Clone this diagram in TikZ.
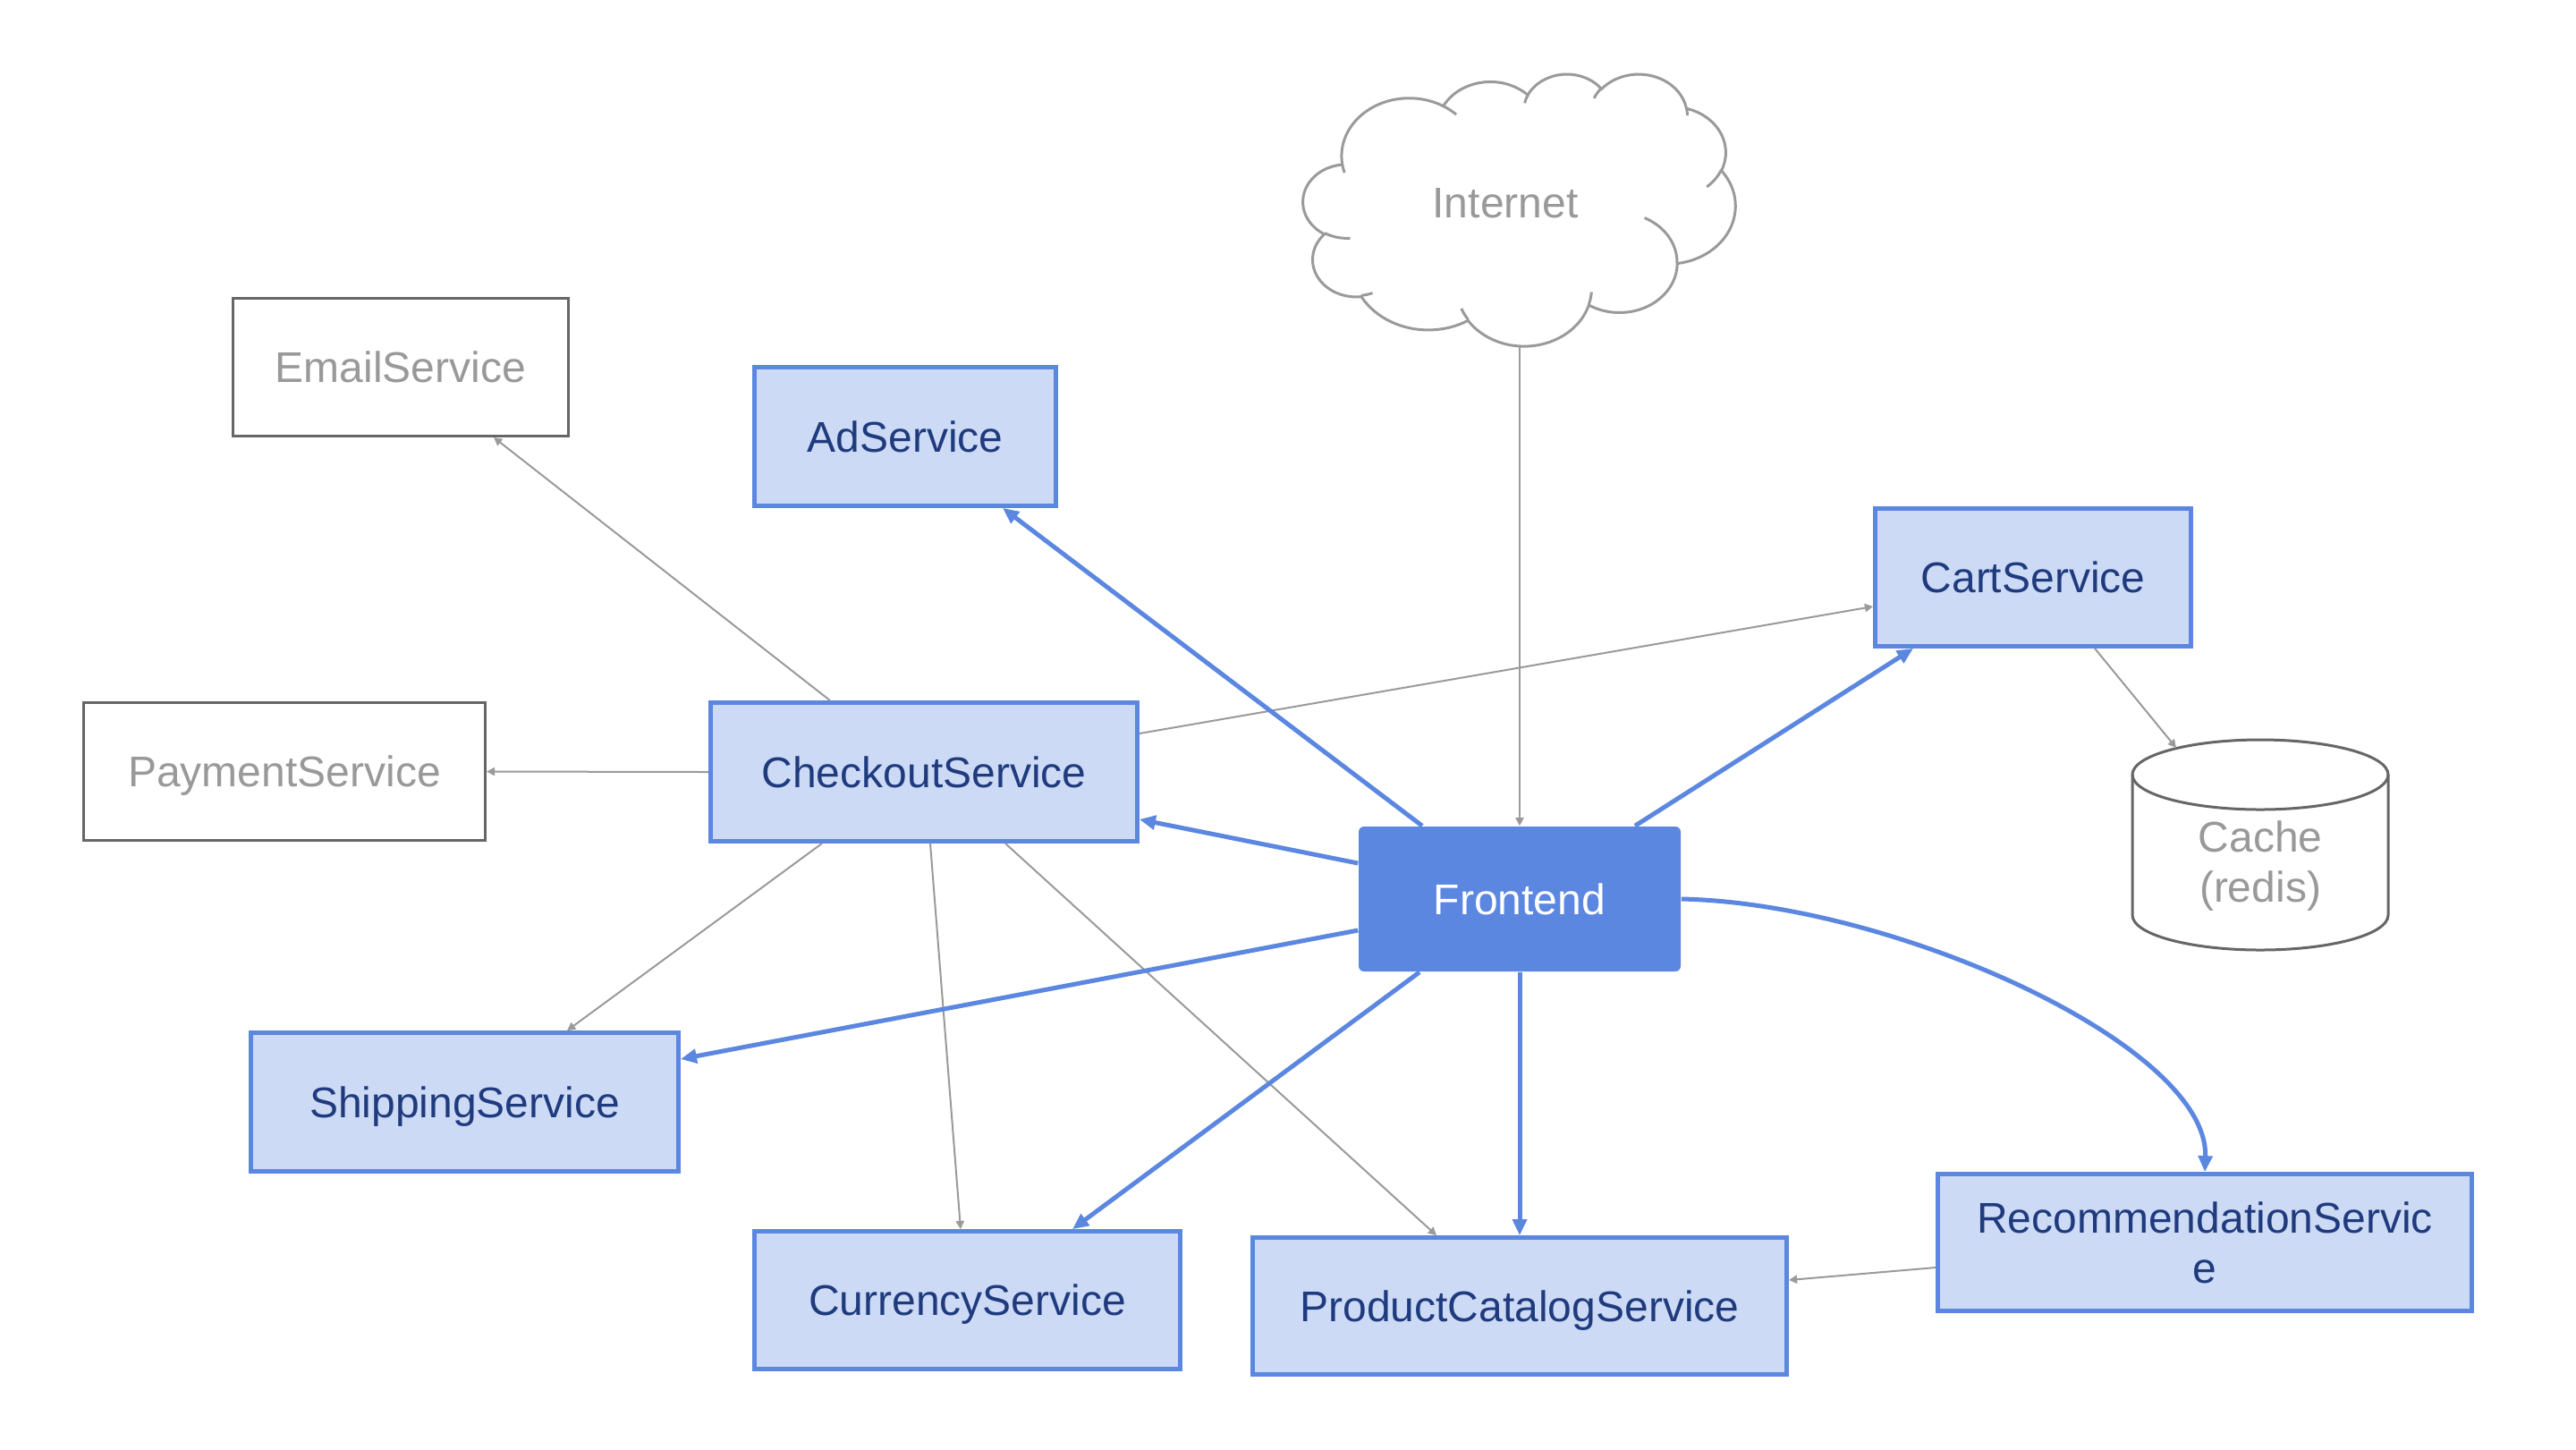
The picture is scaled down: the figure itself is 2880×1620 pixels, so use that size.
\documentclass[tikz,border=0pt]{standalone}
\usepackage{fontspec}
\setmainfont{Liberation Sans}
\usetikzlibrary{arrows.meta,calc}
\definecolor{bline}{HTML}{5B87E1}
\definecolor{bfill}{HTML}{CCDAF5}
\definecolor{btext}{HTML}{1F3B7E}
\definecolor{gtext}{HTML}{999999}
\definecolor{gline}{HTML}{9A9A9A}
\definecolor{gbox}{HTML}{666666}
% elliptical arc given like DrawingML arcTo: id, wR, hR, start angle, sweep (visual angles)
\newcommand\cldarc[5]{%
  \pgfmathsetmacro\cldS{atan2((#2)*sin(#4),(#3)*cos(#4))}%
  \pgfmathsetmacro\cldE{atan2((#2)*sin((#4)+(#5)),(#3)*cos((#4)+(#5)))}%
  \pgfmathsetmacro\cldD{mod(\cldE-\cldS+720,360)}%
  \edef\cldtmp{\noexpand\tikzset{#1/.style={x radius=#2,y radius=#3,start angle=\cldS,delta angle=\cldD}}}%
  \cldtmp}
\begin{document}
\begin{tikzpicture}[x=0.25pt,y=-0.25pt,
  every node/.style={font=\fontsize{12pt}{14pt}\selectfont, inner sep=0pt},
  lbl/.style={text height=8.6pt, text depth=0pt},
  wh/.style 2 args={minimum width=#1*0.25pt, minimum height=#2*0.25pt},
  gsvc/.style={draw=gbox, line width=0.75pt, fill=white, text=gtext, lbl},
  bsvc/.style={draw=bline, line width=1.2pt, fill=bfill, text=btext, lbl},
  front/.style={fill=bline, text=white, rounded corners=1.5pt, lbl},
  gconn/.style={draw=gline, line width=0.5pt, -{Triangle[length=2.3pt,width=2.3pt]}},
  bconn/.style={draw=bline, line width=1.25pt, -{Triangle[length=4.5pt,width=3.9pt]}}
]
\useasboundingbox (0,0) rectangle (2880,1620);
\fill[white] (0,0) rectangle (2880,1620);

% cloud arcs
\cldarc{cma}{675.3}{919.0}{-190.48748}{123.78053}
\cldarc{cmb}{533.3}{726.7}{-144.10238}{89.94523}
\cldarc{cmc}{436.5}{594.5}{-145.80792}{99.72302}
\cldarc{cmd}{485.7}{659.5}{-130.98607}{117.24173}
\cldarc{cme}{533.3}{727.3}{-78.70888}{109.02692}
\cldarc{cmf}{677.5}{922.0}{-46.26725}{130.269}
\cldarc{cmg}{578.5}{786.7}{0.62502}{114.03333}
\cldarc{cmh}{675.2}{921.5}{22.4516}{115.17255}
\cldarc{cmi}{772.0}{1054.3}{66.24263}{75.71102}
\cldarc{cmj}{436.0}{591.8}{-274.94208}{146.73557}
\cldarc{cmk}{434.5}{594.5}{-246.8285}{152.51885}
\cldarc{cca}{434.5}{594.5}{86.742}{26.4295}
\cldarc{ccb}{436.0}{591.8}{73.61047}{11.44747}
\cldarc{ccc}{675.2}{921.5}{137.62415}{14.0811}
\cldarc{ccd}{675.2}{921.5}{6.45327}{15.99835}
\cldarc{cce}{578.5}{786.7}{-70.29235}{70.91737}
\cldarc{ccf}{533.3}{727.3}{30.31803}{27.7515}
\cldarc{ccg}{485.7}{659.5}{-13.74433}{14.8589}
\cldarc{cch}{485.7}{659.5}{-149.18145}{18.19537}
\cldarc{cci}{436.5}{594.5}{-163.49427}{17.68635}
\cldarc{ccj}{675.3}{919.0}{-66.70695}{12.31935}
\cldarc{cck}{675.3}{919.0}{157.65435}{11.85817}

\begin{scope}[shift={(1457,82)}, x=1pt, y=1pt, xscale=0.027951, yscale=-0.017593]
  \draw[gline, line width=0.75pt, fill=white] (390,1437) arc[cma] arc[cmb] arc[cmc] arc[cmd]
    arc[cme] arc[cmf] arc[cmg] arc[cmh] arc[cmi] arc[cmj] arc[cmk] -- cycle;
  \draw[gline, line width=0.75pt] (469.3,2617.7) arc[cca] (692.8,3489.9) arc[ccb]
    (1647.8,3909.0) arc[ccc] (2882.7,3475.1) arc[ccd] (3412.9,2295.4) arc[cce]
    (4179.8,1535.4) arc[ccf] (3832.4,542.6) arc[ccg] (2907.8,395.2) arc[cch]
    (2214.1,472.0) arc[cci] (1400.0,519.2) arc[ccj] (412.7,1578.9) arc[cck];
\end{scope}
\node[lbl, text=gtext] (internet) at (1683,226) {Internet};
\coordinate (inetb) at (1699,387);

% cache cylinder
\draw[gbox, line width=0.75pt, fill=white] (2384,866) -- (2384,1023)
  arc[start angle=180, end angle=0, x radius=143, y radius=39] -- (2670,866)
  arc[start angle=0, end angle=-180, x radius=143, y radius=39];
\draw[gbox, line width=0.75pt] (2384,866) arc[start angle=180, end angle=0, x radius=143, y radius=39];
\node[text=gtext, align=center] (cache) at (2527,968) {Cache\\(redis)};
\coordinate (cachetop) at (2433,836);

% boxes
\node[gsvc, wh={375}{154}] (email) at (448,410.5) {EmailService};
\node[gsvc, wh={449}{154}] (payment) at (318,862.5) {PaymentService};
\node[bsvc, wh={337}{155}] (ad) at (1012,488) {AdService};
\node[bsvc, wh={477}{155}] (checkout) at (1033,863) {CheckoutService};
\node[bsvc, wh={353}{154}] (cart) at (2273,645.5) {CartService};
\node[front, wh={360}{162}] (frontend) at (1699,1005) {Frontend};
\node[bsvc, wh={478}{155}] (shipping) at (519.5,1232) {ShippingService};
\node[bsvc, wh={476}{154}] (currency) at (1081.5,1453.5) {CurrencyService};
\node[bsvc, wh={597}{153}] (product) at (1699,1460) {ProductCatalogService};
\node[draw=bline, line width=1.2pt, fill=bfill, text=btext, wh={597}{153}, align=center]
  (recommendation) at (2465,1389) {RecommendationServic\\e};

% gray connectors
\draw[gconn] ($(checkout.north)+(-105,0)$) -- ($(email.south)+(104,0)$);
\draw[gconn] (checkout.west) -- (payment.east);
\draw[gconn] ($(checkout.east)+(0,-43)$) -- ($(cart.west)+(0,32.5)$);
\draw[gconn] ($(checkout.south)+(-114,0)$) -- ($(shipping.north)+(114.5,0)$);
\draw[gconn] ($(checkout.south)+(7,0)$) -- ($(currency.north)+(-7.5,0)$);
\draw[gconn] ($(checkout.south)+(91,0)$) -- ($(product.north)+(-93,0)$);
\draw[gconn] (inetb) -- (frontend.north);
\draw[gconn] ($(cart.south)+(69,0)$) -- (cachetop);
\draw[gconn] ($(recommendation.west)+(0,28)$) -- ($(product.east)+(0,-29)$);

% blue connectors
\draw[bconn] ($(frontend.north)+(-109,0)$) -- ($(ad.south)+(109,0)$);
\draw[bconn] ($(frontend.north)+(129,0)$) -- ($(cart.south)+(-134,0)$);
\draw[bconn] ($(frontend.west)+(0,-40)$) -- ($(checkout.east)+(0,53)$);
\draw[bconn] ($(frontend.west)+(0,35)$) -- ($(shipping.east)+(0,-48)$);
\draw[bconn] ($(frontend.south)+(-112,0)$) -- ($(currency.north)+(117.5,0)$);
\draw[bconn] (frontend.south) -- (product.north);
\draw[bconn] (frontend.east) .. controls (2120,1010) and (2470,1170) .. (recommendation.north);
\end{tikzpicture}
\end{document}
